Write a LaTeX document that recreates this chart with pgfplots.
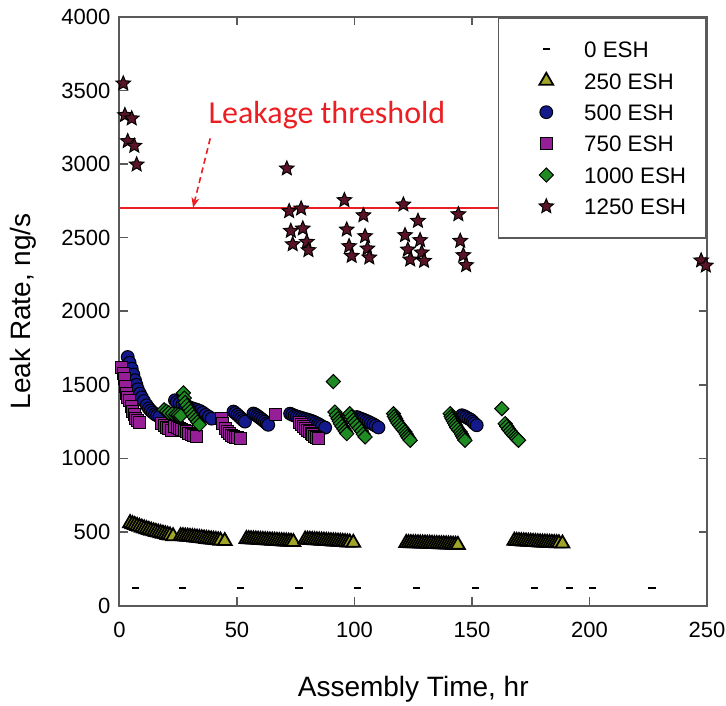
\documentclass[border=0pt]{standalone}
\usepackage{fontspec}
\setmainfont{Liberation Sans}
\newfontfamily\carlito{Carlito}
\usepackage{pgfplots}
\pgfplotsset{compat=1.18}
\usetikzlibrary{arrows.meta}

\definecolor{triC}{RGB}{160,165,40}
\definecolor{cirC}{RGB}{20,25,140}
\definecolor{sqC}{RGB}{150,30,150}
\definecolor{diaC}{RGB}{30,140,35}
\definecolor{starC}{RGB}{90,20,40}
\definecolor{thrC}{RGB}{235,30,35}
\definecolor{axC}{RGB}{90,90,90}

% filled five-pointed star
\pgfdeclareplotmark{fstar}{%
  \pgfpathmoveto{\pgfpointpolar{90}{\pgfplotmarksize}}%
  \pgfpathlineto{\pgfpointpolar{126}{0.45\pgfplotmarksize}}%
  \pgfpathlineto{\pgfpointpolar{162}{\pgfplotmarksize}}%
  \pgfpathlineto{\pgfpointpolar{198}{0.45\pgfplotmarksize}}%
  \pgfpathlineto{\pgfpointpolar{234}{\pgfplotmarksize}}%
  \pgfpathlineto{\pgfpointpolar{270}{0.45\pgfplotmarksize}}%
  \pgfpathlineto{\pgfpointpolar{306}{\pgfplotmarksize}}%
  \pgfpathlineto{\pgfpointpolar{342}{0.45\pgfplotmarksize}}%
  \pgfpathlineto{\pgfpointpolar{18}{\pgfplotmarksize}}%
  \pgfpathlineto{\pgfpointpolar{54}{0.45\pgfplotmarksize}}%
  \pgfpathclose
  \pgfusepathqfillstroke}

\begin{document}
\begin{tikzpicture}
\path[use as bounding box] (-59.75pt,-49.75pt) rectangle (303.25pt,302.75pt);
\begin{axis}[
    at={(0pt,0pt)}, anchor=south west,
    scale only axis, width=293.75pt, height=294.25pt,
    xmin=0, xmax=250, ymin=0, ymax=4000,
    xtick={0,50,...,250}, ytick={0,500,...,4000},
    clip=false,
    axis line style={draw=axC, line width=1pt},
    major tick style={draw=axC, line width=0.8pt},
    major tick length=4pt,
    tick align=inside,
    /pgf/number format/1000 sep={},
    /pgf/number format/assume math mode=true,
    ticklabel style={font=\fontsize{11}{13}\selectfont},
    xticklabel style={yshift=-5pt},
    yticklabel style={xshift=-1pt},
    xlabel={Assembly Time, hr},
    ylabel={Leak Rate, ng/s},
    label style={font=\fontsize{14}{16}\selectfont},
    xlabel style={at={(axis description cs:0.5,-0.1538)}, anchor=base},
    ylabel style={at={(axis description cs:-0.1523,0.5)}, anchor=base, rotate=0},
    legend cell align=left,
    legend image code/.code={%
        \path (-13.5pt,-4pt) (6pt,4pt);
        \draw[#1] plot coordinates {(0pt,0pt)};},
    legend style={at={(1,1)}, anchor=north east, draw=axC, line width=0.8pt,
        fill=white, inner xsep=10pt, inner ysep=11.4pt, row sep=6.9pt,
        font=\fontsize{11.2}{13}\selectfont,
        nodes={inner sep=0pt, text height=8.2pt, text depth=0pt},
        /tikz/every odd column/.append style={column sep=12.5pt}},
]

% 0 ESH
\addplot[only marks, mark=-, mark size=1.8pt, mark options={draw=black, line width=1pt}]
coordinates {(6.9,120)(26.7,120)(51.6,120)(76.4,120)(101.2,120)(126.5,120)
(151.6,120)(176.5,120)(191.4,120)(201.3,120)(226.6,120)};
\addlegendentry{0 ESH}

% 250 ESH
\addplot[only marks, mark=triangle*, mark size=4pt, mark options={draw=black, line width=0.9pt, fill=triC}]
coordinates {
(4.5,560)(5.5,553)(6.5,547)(7.5,541)(8.5,535)(9.5,529)(10.5,524)(11.5,519)(12.5,514)(13.5,509)
(14.5,504)(15.5,500)(16.5,496)(17.5,492)(18.5,488)(19.5,484)(20.5,480)(21.5,476)(22.8,471)
(26,472)(27,471)(28,469)(29,468)(30,466)(31,465)(32,463)(33,461)(34,459)(35,457)
(36,455)(37,453)(38,451)(39,449)(40,447)(41,445)(42,443)(43,441)(44.8,438)
(54,452)(55,451)(56,450)(57,449)(58,448)(59,447)(60,446)(61,445)(62,444)(63,443)(64,442)
(65,441)(66,440)(67,439)(68,438)(69,437)(70,436)(71,435)(72,434)(73,433)(74,431)
(79,448)(80,447)(81,446)(82,445)(83,444)(84,443)(85,442)(86,441)(87,440)(88,439)(89,438)
(90,437)(91,436)(92,435)(93,434)(94,433)(95,432)(96,431)(97,429)(98,428)(99.5,426)
(122,425)(123,424.5)(124,424)(125,423.5)(126,423)(127,422.5)(128,422)(129,421.5)(130,421)
(131,420.5)(132,420)(133,419)(134,418)(135,417.5)(136,417)(137,416.5)(138,416)(139,415.5)
(140,415)(141,414)(142,413)(143,412.5)(144,412)
(168,440)(169,439)(170,438)(171,437)(172,436)(173,435)(174,434)(175,433)(176,432)(177,431)
(178,430)(179,429)(180,428)(181,427.5)(182,427)(183,426)(184,425)(185,424.5)(186,424)
(187,423)(188.5,421)};
\addlegendentry{250 ESH}

% 500 ESH
\addplot[only marks, mark=*, mark size=3.2pt, mark options={draw=black, line width=0.5pt, fill=cirC}]
coordinates {
(3.5,1689)(4.3,1650)(5.2,1610)(5.9,1570)(6.6,1531)(7.2,1500)(7.8,1470)(8.7,1440)(9.5,1415)
(10.4,1390)(11.6,1361)(12.5,1340)(13.3,1325)(14.2,1312)(15.1,1300)(16,1292)(17,1285)
(23.6,1395)(24.4,1383)(25.6,1375)(26.8,1366)(28,1357)(29.3,1349)(30.5,1343)(31.8,1336)
(33,1330)(34.3,1322)(35.5,1310)(36.7,1296)(38,1283)(39.2,1270)
(48.5,1318)(49.3,1308)(50.2,1296)(51,1284)(51.8,1272)(52.6,1260)(53.4,1250)
(57,1305)(57.8,1298)(58.6,1289)(59.4,1280)(60.2,1270)(61,1260)(61.8,1250)(62.6,1238)(63.3,1228)
(72.6,1304)(73.5,1297)(74.5,1290)(75.5,1285)(76.5,1280)(77.5,1275)(78.5,1270)(79.5,1266)
(80.5,1261)(81.5,1256)(82.5,1250)(83.5,1242)(84.5,1234)(85.3,1226)(86.2,1218)(87.5,1209)
(101,1281)(102,1274)(103,1268)(104,1262)(105,1255)(106,1248)(107,1240)(108,1232)(109,1222)(110.2,1210)
(145.7,1293)(146.6,1287)(147.5,1280)(148.5,1271)(149.5,1262)(150.3,1250)(151,1238)(152,1225)};
\addlegendentry{500 ESH}

% 750 ESH
\addplot[only marks, mark=square*, mark size=3pt, mark options={draw=black, line width=0.5pt, fill=sqC}]
coordinates {
(0.9,1621)(1.6,1580)(2.3,1542)(2.6,1490)(3,1440)(3.6,1415)(4.2,1390)(4.9,1355)(5.6,1320)
(6.3,1295)(7,1270)(7.6,1255)(8.3,1241)
(18,1236)(19,1224)(20,1212)(21,1201)(22.2,1191)
(23.5,1215)(24.5,1208)(25.5,1202)(26.5,1196)(27.5,1188)(28.5,1180)(29.5,1171)(30.5,1162)
(31.5,1154)(32.9,1146)
(43.5,1270)(44,1235)(44.9,1202)(45.8,1185)(46.8,1170)(47.8,1157)(48.7,1150)(49.5,1144)
(50.4,1139)(51.3,1135)
(66.2,1300)
(76.8,1247)(77.6,1230)(78.5,1215)(79.2,1202)(80,1190)(80.8,1180)(81.5,1170)(82.3,1160)
(83,1152)(83.8,1143)(84.6,1135)};
\addlegendentry{750 ESH}

% 1000 ESH
\addplot[only marks, mark=square*, mark size=2.5pt, mark options={rotate=45, draw=black, line width=0.5pt, fill=diaC}]
coordinates {
(19,1330)(20,1320)(21,1310)(22.5,1305)(24,1300)(25,1295)(26,1290)
(27.2,1445)(27.6,1410)(28,1380)(28.7,1360)(29.5,1340)(30.2,1320)(31,1300)(31.7,1282)
(32.5,1265)(33.2,1248)(34,1230)
(91,1522)
(91.7,1315)(92.3,1292)(93,1270)(93.5,1253)(94,1236)(94.7,1218)(95.5,1200)(96.1,1184)(96.7,1168)
(98,1304)(98.7,1282)(99.5,1260)(100.2,1242)(101,1225)(102,1205)(103,1185)(103.7,1165)(104.5,1146)
(116.6,1304)(117,1285)(117.5,1270)(118,1255)(118.5,1240)(119.2,1225)(120,1210)(120.7,1195)
(121.5,1180)(122,1165)(122.5,1150)(123.1,1137)(123.7,1123)
(140.7,1304)(141.1,1285)(141.5,1270)(142,1255)(142.5,1240)(143,1225)(143.5,1210)(144.2,1195)
(145,1180)(145.5,1165)(146,1150)(146.5,1137)(147,1123)
(162.7,1338)(164.1,1236)(164.8,1218)(165.5,1200)(166.3,1185)(167,1170)(167.7,1157)
(168.5,1145)(169.1,1134)(169.8,1123)};
\addlegendentry{1000 ESH}

% 1250 ESH
\addplot[only marks, mark=fstar, mark size=3.8pt, mark options={draw=black, line width=0.5pt, fill=starC}]
coordinates {
(1.6,3548)(2.3,3333)(5.2,3310)(3.5,3156)(6.3,3124)(7.3,2997)
(71.2,2970)(72.2,2680)(77.3,2698)(72.9,2546)(78,2562)(73.7,2455)(79.7,2471)(80.4,2415)
(95.7,2755)(103.8,2652)(96.7,2555)(104.5,2510)(97.7,2442)(105.5,2426)(98.8,2376)(106.3,2365)
(120.8,2725)(127,2614)(121.5,2517)(127.9,2483)(122.7,2419)(128.6,2399)(123.7,2351)(129.6,2342)
(144.2,2659)(145,2478)(146.3,2381)(147.5,2313)
(247.5,2345)(249.5,2310)};
\addlegendentry{1250 ESH}

% leakage threshold
\addplot[thrC, line width=1pt, forget plot] coordinates {(0,2700)(250,2700)};
\draw[thrC, line width=0.8pt, dash pattern=on 3pt off 2pt, -{Stealth[length=5pt,width=4pt]}]
    (axis cs:38.6,3175) -- (axis cs:31.3,2705);
\node[text=thrC, font=\carlito\fontsize{16}{18}\selectfont] at (axis cs:88.3,3332) {Leakage threshold};

\end{axis}
\end{tikzpicture}
\end{document}
